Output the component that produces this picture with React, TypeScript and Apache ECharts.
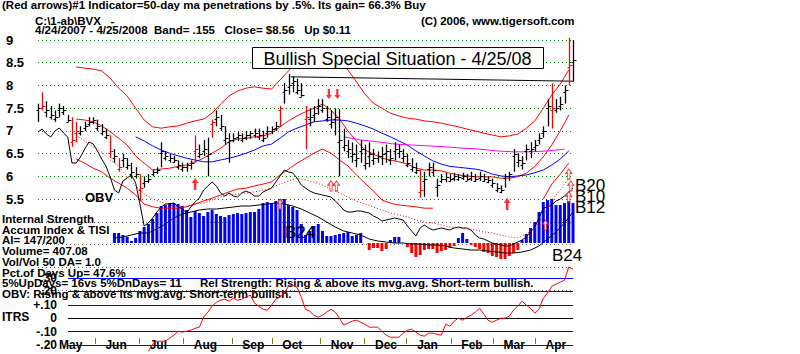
import React, { useEffect, useRef } from "react";
import * as echarts from "echarts";

// ---------- texts ----------
const titleText = "(Red arrows)#1 Indicator=50-day ma penetrations by .5%. Its gain= 66.3% Buy";
const fileText = "C:\\1-ab\\BVX   -";
const rangeText = "4/24/2007 - 4/25/2008  Band= .155   Close= $8.56   Up $0.11";
const copyText = "(C) 2006, www.tigersoft.com";
const boxText = "Bullish Special Situation - 4/25/08";
const statLines = [
  "Internal Strength",
  "Accum Index & TISI",
  "AI= 147/200",
  "Volume= 407.08",
  "Vol/Vol 50 DA= 1.0",
  "Pct.of Days Up= 47.6%",
  "5%UpDays= 16vs 5%DnDays= 11",
  "OBV: Rising & above its mvg.avg. Short-term bullish.",
];
const relText = "Rel Strength: Rising & above its mvg.avg. Short-term bullish.";
const monthNames = ["May", "Jun", "Jul", "Aug", "Sep", "Oct", "Nov", "Dec", "Jan", "Feb", "Mar", "Apr"];
const monthStarts = [5, 27, 48, 69, 92, 111, 134, 155, 175, 196, 216, 236]; // trading-day index of first day
const tradingDays = 255;
const itrsTickLabels: Record<string, string> = { "-2": "-.20", "-1": "-.10", "0": "0", "1": "+.10", "2": ".20", "3": ".30" };

// ---------- price bars (every 2 trading days from day 0) ----------
const priceHigh = [7.6,7.85,7.65,7.55,7.45,7.6,7.55,7.35,7.3,7.2,7.1,7.2,7.3,7.3,7.25,7.15,7.05,6.9,6.6,6.4,6.5,6.4,6.3,6.2,6.05,6.0,6.05,6.15,6.2,6.75,6.55,6.5,6.45,6.35,6.3,6.3,6.35,6.9,6.7,6.8,6.85,7.25,7.45,7.35,7.1,6.95,6.95,6.98,6.95,7.0,7.0,7.05,7.05,7.0,7.1,7.1,7.2,7.55,8.05,8.25,8.2,8.15,8.05,7.55,7.5,7.55,7.7,7.7,7.55,7.45,7.5,7.48,7.05,6.8,6.75,6.7,6.8,6.7,6.75,6.6,6.55,6.65,6.7,6.6,6.75,6.7,6.6,6.5,6.4,6.3,6.15,6.1,6.3,6.3,5.95,6.05,6.08,6.05,6.08,6.05,6.08,6.05,6.1,6.05,6.1,6.05,6.0,5.95,5.85,5.8,6.05,6.1,6.6,6.5,6.45,6.7,6.75,6.8,6.95,7.1,7.7,8.05,7.7,7.75,8.0,9.05,9.0];
const priceLow = [7.2,7.45,7.3,7.25,7.2,7.3,7.35,7.2,6.65,6.75,6.9,7.0,7.1,7.15,7.0,6.9,6.82,6.4,6.3,6.1,6.2,6.15,5.95,5.95,5.45,5.75,5.85,6.0,6.05,6.2,6.35,6.3,6.3,6.15,6.1,6.1,6.15,6.3,6.4,6.45,6.0,6.85,7.1,7.0,6.7,6.3,6.75,6.78,6.75,6.8,6.82,6.85,6.8,6.75,6.85,6.93,7.0,7.1,7.6,7.8,7.85,7.8,7.75,6.6,7.1,7.2,7.35,7.4,7.2,7.05,6.9,6.0,6.55,6.4,6.3,6.2,6.3,6.15,6.2,6.25,6.3,6.25,6.3,6.25,6.35,6.4,6.3,6.2,6.1,6.05,5.53,5.55,6.0,6.0,5.55,5.85,5.87,5.88,5.9,5.9,5.92,5.9,5.9,5.88,5.9,5.88,5.85,5.75,5.65,5.63,5.75,5.9,6.1,6.2,6.15,6.35,6.4,6.55,6.7,6.85,7.1,7.05,7.4,7.45,7.6,8.0,8.1];
const priceClose = [7.5,7.55,7.45,7.35,7.3,7.5,7.45,7.25,6.8,7.0,7.0,7.1,7.2,7.25,7.1,7.0,6.9,6.55,6.45,6.2,6.4,6.25,6.1,6.05,5.75,5.9,5.95,6.1,6.15,6.55,6.45,6.4,6.35,6.25,6.2,6.25,6.3,6.6,6.5,6.6,6.5,7.2,7.3,7.1,6.85,6.8,6.85,6.9,6.85,6.9,6.95,6.95,6.9,6.85,7.0,7.05,7.1,7.5,7.9,8.0,8.1,7.9,7.8,7.3,7.3,7.4,7.55,7.5,7.3,7.2,7.3,6.8,6.7,6.6,6.5,6.4,6.6,6.3,6.5,6.4,6.45,6.5,6.55,6.4,6.6,6.55,6.45,6.3,6.2,6.15,5.7,5.95,6.2,6.15,5.8,5.95,5.98,5.95,6.0,5.98,6.0,5.95,6.0,5.95,6.0,5.95,5.92,5.85,5.75,5.7,6.0,6.05,6.5,6.35,6.3,6.6,6.6,6.7,6.85,7.0,7.55,7.5,7.5,7.6,7.9,8.45,8.56];
const redBarDays = [2, 16, 18, 34, 38, 48, 74, 82, 114, 126, 180, 242, 250];

// ---------- price-panel lines (sampled every 4 days) ----------
const bandStart = 18;
const upperBand = [8.41,8.38,8.36,8.32,8.16,7.94,7.77,7.5,7.24,7.09,7.06,7.09,7.11,7.17,7.22,7.26,7.39,7.59,7.77,7.88,7.94,7.97,7.94,7.92,8.12,8.32,8.54,8.67,8.74,8.74,8.67,8.52,8.34,8.08,7.81,7.61,7.5,7.39,7.33,7.28,7.26,7.22,7.2,7.17,7.13,7.09,7.04,7.0,6.95,6.91,6.87,6.89,6.93,7.06,7.22,7.5,7.79,8.03,8.34];
const midAvg = [7.26,7.24,7.2,7.11,6.98,6.84,6.69,6.45,6.29,6.14,6.16,6.18,6.22,6.25,6.32,6.4,6.51,6.62,6.76,6.82,6.84,6.87,6.89,6.95,7.09,7.22,7.33,7.42,7.5,7.59,7.46,7.26,7.0,6.78,6.58,6.49,6.4,6.36,6.32,6.27,6.18,6.14,6.14,6.12,6.07,6.03,6.01,5.99,5.99,5.99,5.96,5.96,5.99,6.07,6.22,6.43,6.69,7.0,7.35];
// null = hidden behind the indicator panel in the picture
const lowerBand = [6.38,6.29,6.18,6.1,5.96,5.85,5.74,5.59,5.39,5.33,5.3,5.3,5.3,5.33,5.39,5.46,5.52,5.59,5.66,5.72,5.74,5.79,5.83,5.88,6.03,6.16,6.29,6.4,6.51,6.6,6.51,6.36,6.23,6.03,5.85,5.68,5.48,5.41,5.37,5.35,5.33,5.3,5.3,null,null,null,null,null,null,null,null,null,null,null,null,5.5,5.83,6.05,6.29];
const ma50Start = 46;
const ma50 = [6.87,6.78,6.67,6.58,6.51,6.45,6.4,6.36,6.32,6.32,6.36,6.4,6.45,6.51,6.58,6.67,6.71,6.84,6.98,7.06,7.13,7.2,7.22,7.24,7.24,7.22,7.17,7.11,7.04,6.95,6.87,6.78,6.69,6.56,6.45,6.34,6.27,6.22,6.2,6.18,6.16,6.12,6.05,6.01,5.99,6.01,6.03,6.08,6.14,6.25,6.38,6.56];
const ma200Start = 144;
const ma200 = [6.87,6.8,6.76,6.71,6.69,6.67,6.65,6.62,6.6,6.56,6.54,6.54,6.56,6.6];
const resistanceDays = [119, 271];
const resistanceLevel = [8.19, 8.08];

// ---------- OBV (every 2 days from day 0) and its average (every 4 days) ----------
const obv = [128,131,126,123,129,132,127,123,97,97,103,111,118,116,109,101,94,83,70,67,79,82,85,77,56,34,37,42,48,53,56,56,57,53,51,47,53,58,62,70,74,78,74,67,64,67,64,63,67,69,67,64,64,68,70,72,78,84,90,88,87,82,75,72,69,67,66,65,64,63,59,55,50,48,48,49,49,48,47,44,42,39,40,41,42,41,40,34,29,24,32,35,32,30,31,32,31,30,32,33,32,32,30,25,22,21,19,17,16,15,14,14,16,18,20,23,28,33,42,52,53,55,59,61,64,68,72];
const obvAvgStart = 18;
const obvAvg = [125,119,113,108,100,94,83,74,66,61,58,55,53,54,56,57,60,63,65,66,67,68,70,72,76,79,82,80,78,75,71,67,63,59,56,53,50,47,45,43,40,38,37,35,33,32,31,30,28,27,25,23,22,26,32,44,60,70,82];

// ---------- Accumulation index (every 2 days from day 36) and its average (every 4 days) ----------
const aiStart = 36;
const aiValues = [10,10,8,6,2,5,12,16,19,24,30,37,38,40,40,39,37,33,26,32,30,27,31,33,29,27,26,28,29,30,29,30,31,31,34,40,41,40,42,44,44,38,36,33,19,8,12,17,19,12,7,7,8,9,10,11,7,8,10,0,-7,-5,-5,-8,-6,3,6,6,0,-4,-10,-14,-12,-7,-6,-6,-10,-8,-7,-5,-3,5,10,4,-2,-4,-6,-9,-10,-13,-14,-16,-16,-13,-10,-7,3,9,15,21,31,41,43,44,38,38,40,42,40];
const aiAvg = [5,6,8,10,10,14,19,25,29,31,33,34,34,35,36,37,37,38,39,40,39,37,34,30,26,21,16,12,10,8,4,2,1,0,0,-1,-1,-2,-2,-3,-5,-6,-7,-7,-8,-9,-10,-10,-9,-7,-3,4,11,20,31];

// ---------- ITRS (every 2 days from day 52) ----------
const itrsStart = 52;
const itrs = [-0.246,-0.194,-0.172,-0.172,-0.172,-0.149,-0.127,-0.097,-0.104,-0.097,-0.09,-0.075,-0.067,0.007,0.045,0.09,0.119,0.134,0.142,0.127,0.149,0.134,0.142,0.157,0.172,0.112,0.09,0.067,0.06,0.097,0.142,0.157,0.187,0.239,0.246,0.231,0.157,0.067,0.052,0.022,0.007,0.022,0.045,0.067,0.045,0,-0.052,-0.037,-0.022,-0.015,-0.03,-0.045,-0.067,-0.067,-0.067,-0.097,-0.127,-0.142,-0.142,-0.142,-0.112,-0.09,-0.082,-0.104,-0.127,-0.134,-0.112,-0.112,-0.12,-0.127,-0.045,-0.06,-0.022,0,-0.015,0.007,0.022,0.045,0.075,0.03,-0.015,-0.03,-0.015,0,0,0.015,0.06,0.09,0.127,0.097,0.075,0.037,0.067,0.149,0.187,0.239,0.254,0.269,0.284,0.381,0.366];

// ---------- signals ----------
const upArrows = [[74, 5.83], [221, 5.39]];
const downArrows = [[137, 7.81], [141, 7.81]];
const hollowArrows = [[138, 5.79], [140.6, 5.79], [250, 6.05], [251, 5.79], [250, 5.55], [114, 5.39], [239, 4.93]];
const buyLabels = ["B20", "B10", "B12"];

const RED = "#ff0000";
const BLUE = "#0000ff";
const FONT = '"Liberation Sans", Arial, sans-serif';

function seq(start: number, step: number, arr: (number | null)[]) {
  return arr.map((v, i) => [start + i * step, v]);
}

function txt(text: string, x: number, y: number, font: string, extra: any = {}) {
  return {
    type: "text",
    x,
    y,
    z: extra.z ?? 1,
    style: { text, font, fill: "#000", verticalAlign: "top", align: extra.align ?? "left" },
  };
}

export default function App() {
  const ref = useRef<HTMLDivElement>(null);
  useEffect(() => {
    if (!ref.current) return;
    const chart = echarts.init(ref.current, null, { renderer: "svg" });

    const barData = priceHigh.map((h, i) => [i * 2, h, priceLow[i], priceClose[i], redBarDays.includes(i * 2) ? 1 : 0]);
    const labelIdx = monthStarts.map((s) => s + 5);
    const tickIdx = monthStarts.slice(1);
    const cats = Array.from({ length: tradingDays }, (_, i) => String(i));

    const hiddenX = (gridIndex: number) => ({ type: "value", gridIndex, min: 0, max: 252, show: false });
    const arrowPath = "path://M4,0 L8,5 L5.5,5 L5.5,12 L2.5,12 L2.5,5 L0,5 Z";
    const boldSmall = `bold 11.5px ${FONT}`;

    const lineS = (data: any[], color: string, extra: any = {}) => ({
      type: "line",
      data,
      xAxisIndex: extra.xAxisIndex ?? 0,
      yAxisIndex: extra.yAxisIndex ?? 0,
      showSymbol: false,
      symbol: "none",
      clip: false,
      connectNulls: false,
      z: extra.z ?? 3,
      lineStyle: { color, width: 1, type: extra.type ?? "solid" },
    });

    const option: any = {
      animation: false,
      backgroundColor: "#ffffff",
      grid: [
        { left: 38, width: 535, top: 40, height: 250 },
        { left: 38, width: 535, top: 120, height: 140 },
        { left: 38, width: 535, top: 183, height: 77 },
        { left: 38, width: 535, top: 278, height: 67 },
        { left: 68, width: 505, top: 278, height: 67 },
        { left: 38, width: 535, top: 330, height: 8 },
      ],
      xAxis: [
        hiddenX(0),
        hiddenX(1),
        hiddenX(2),
        hiddenX(3),
        { type: "value", gridIndex: 4, min: 0, max: 252, show: false },
        {
          type: "category",
          gridIndex: 5,
          data: cats,
          boundaryGap: false,
          z: 5,
          axisLine: { show: false },
          axisTick: { show: true, interval: (i: number) => tickIdx.includes(i), length: 6, lineStyle: { color: "#808000", width: 1 } },
          axisLabel: {
            interval: (i: number) => labelIdx.includes(i),
            formatter: (_v: string, i: number) => {
              const k = labelIdx.indexOf(i);
              return k >= 0 ? monthNames[k] : "";
            },
            align: "left",
            margin: 1,
            color: "#000",
            fontSize: 12,
            fontWeight: "bold",
            fontFamily: FONT,
          },
        },
      ],
      yAxis: [
        {
          type: "value",
          gridIndex: 0,
          min: 3.5,
          max: 9,
          interval: 0.5,
          axisLine: { show: false },
          axisTick: { show: false },
          axisLabel: {
            align: "left",
            margin: 32,
            color: "#000",
            fontSize: 13,
            fontWeight: "bold",
            fontFamily: FONT,
            padding: [6, 0, 0, 0],
            formatter: (v: number) => (v >= 5.5 ? String(v) : ""),
          },
          splitLine: {
            show: true,
            lineStyle: {
              type: [1, 3],
              width: 1,
              color: ["#606060", "#606060", "#606060", "#606060", "#008000", "#008000", "#008000", "#008000", "#008000", "#008000", "#008000", "#008000"],
            },
          },
        },
        { type: "value", gridIndex: 1, min: 0, max: 140, show: false },
        { type: "value", gridIndex: 2, min: -17, max: 60, show: false },
        { type: "value", gridIndex: 3, min: -0.2, max: 0.3, show: false },
        {
          type: "value",
          gridIndex: 4,
          min: -0.2,
          max: 0.3,
          interval: 0.1,
          z: 5,
          axisLine: { show: false },
          axisTick: { show: false },
          axisLabel: {
            margin: 11,
            color: "#000",
            fontSize: 12,
            fontWeight: "bold",
            fontFamily: FONT,
            formatter: (v: number) => itrsTickLabels[String(Math.round(v * 10))] ?? "",
          },
          splitLine: { show: true, lineStyle: { type: "solid", width: 1, color: [BLUE, BLUE, "#000000", BLUE, BLUE, BLUE] } },
        },
        { type: "value", gridIndex: 5, show: false },
      ],
      series: [
        // price bars
        {
          type: "custom",
          xAxisIndex: 0,
          yAxisIndex: 0,
          data: barData,
          encode: { x: 0, y: [1, 2, 3] },
          z: 4,
          renderItem: (_p: any, api: any) => {
            const d = api.value(0);
            const hi = api.coord([d, api.value(1)]);
            const lo = api.coord([d, api.value(2)]);
            const cl = api.coord([d, api.value(3)]);
            const color = api.value(4) === 1 ? RED : "#000000";
            const x = Math.round(hi[0]) + 0.5;
            const cy = Math.round(cl[1]) + 0.5;
            return {
              type: "group",
              children: [
                { type: "line", shape: { x1: x, y1: hi[1], x2: x, y2: lo[1] }, style: { stroke: color, lineWidth: 1.3 } },
                { type: "line", shape: { x1: x, y1: cy, x2: x + 3, y2: cy }, style: { stroke: color, lineWidth: 1 } },
                { type: "line", shape: { x1: x - 2, y1: cy + 2, x2: x, y2: cy + 2 }, style: { stroke: color, lineWidth: 1 } },
              ],
            };
          },
        },
        lineS(seq(bandStart, 4, upperBand), RED),
        lineS(seq(bandStart, 4, midAvg), RED),
        lineS(seq(bandStart, 4, lowerBand), RED),
        lineS(seq(ma50Start, 4, ma50), BLUE),
        lineS(seq(ma200Start, 8, ma200), "#ff00ff"),
        lineS(resistanceDays.map((d, i) => [d, resistanceLevel[i]]), "#000000"),
        // OBV
        lineS(seq(0, 2, obv), "#000000", { xAxisIndex: 1, yAxisIndex: 1 }),
        lineS(seq(obvAvgStart, 4, obvAvg), RED, { xAxisIndex: 1, yAxisIndex: 1, type: [1, 2] }),
        // AI
        {
          type: "bar",
          xAxisIndex: 2,
          yAxisIndex: 2,
          barWidth: 3,
          z: 2,
          data: aiValues.map((v, i) => ({ value: [aiStart + 2 * i, v], itemStyle: { color: v >= 0 ? BLUE : RED } })),
        },
        lineS(seq(aiStart, 4, aiAvg), "#000000", { xAxisIndex: 2, yAxisIndex: 2 }),
        // ITRS
        lineS(seq(itrsStart, 2, itrs), RED, { xAxisIndex: 3, yAxisIndex: 3, z: 6 }),
        // arrows
        {
          type: "scatter",
          xAxisIndex: 0,
          yAxisIndex: 0,
          symbol: arrowPath,
          symbolSize: [7, 12],
          itemStyle: { color: RED },
          z: 8,
          data: upArrows,
        },
        {
          type: "scatter",
          xAxisIndex: 0,
          yAxisIndex: 0,
          symbol: arrowPath,
          symbolSize: [6, 10],
          symbolRotate: 180,
          itemStyle: { color: RED },
          z: 8,
          data: downArrows,
        },
        {
          type: "scatter",
          xAxisIndex: 0,
          yAxisIndex: 0,
          symbol: arrowPath,
          symbolSize: [6, 10],
          itemStyle: { color: "#ffffff", borderColor: RED, borderWidth: 1 },
          z: 8,
          data: hollowArrows,
        },
      ],
      graphic: [
        txt(titleText, 2, -1, boldSmall),
        txt(fileText, 35, 15, boldSmall),
        txt(rangeText, 35, 24, boldSmall),
        txt(copyText, 421, 15, boldSmall),
        {
          type: "rect",
          z: 10,
          shape: { x: 252.5, y: 47.5, width: 291, height: 21 },
          style: { fill: "#ffffff", stroke: "#000000", lineWidth: 1 },
        },
        {
          type: "text",
          z: 11,
          x: 397.5,
          y: 58.5,
          style: { text: boxText, font: `18px ${FONT}`, fill: "#000", align: "center", verticalAlign: "middle" },
        },
        txt("OBV", 85, 191, `bold 13px ${FONT}`),
        ...statLines.map((s, i) => txt(s, 2, 213 + i * 10.7, boldSmall)),
        txt(relText, 200, 213 + 6 * 10.7, boldSmall),
        txt("ITRS", 2, 311, `bold 12px ${FONT}`),
        ...buyLabels.map((b, i) => txt(b, 575, 177 + i * 11, `17px ${FONT}`, { z: 9 })),
        txt("B24", 552, 247, `17px ${FONT}`, { z: 9 }),
        txt("B24", 285, 224, `17px ${FONT}`, { z: 9 }),
      ],
    };

    chart.setOption(option);
    return () => chart.dispose();
  }, []);

  return <div ref={ref} style={{ position: "fixed", left: 0, top: 0, width: 800, height: 354, background: "#fff" }} />;
}
